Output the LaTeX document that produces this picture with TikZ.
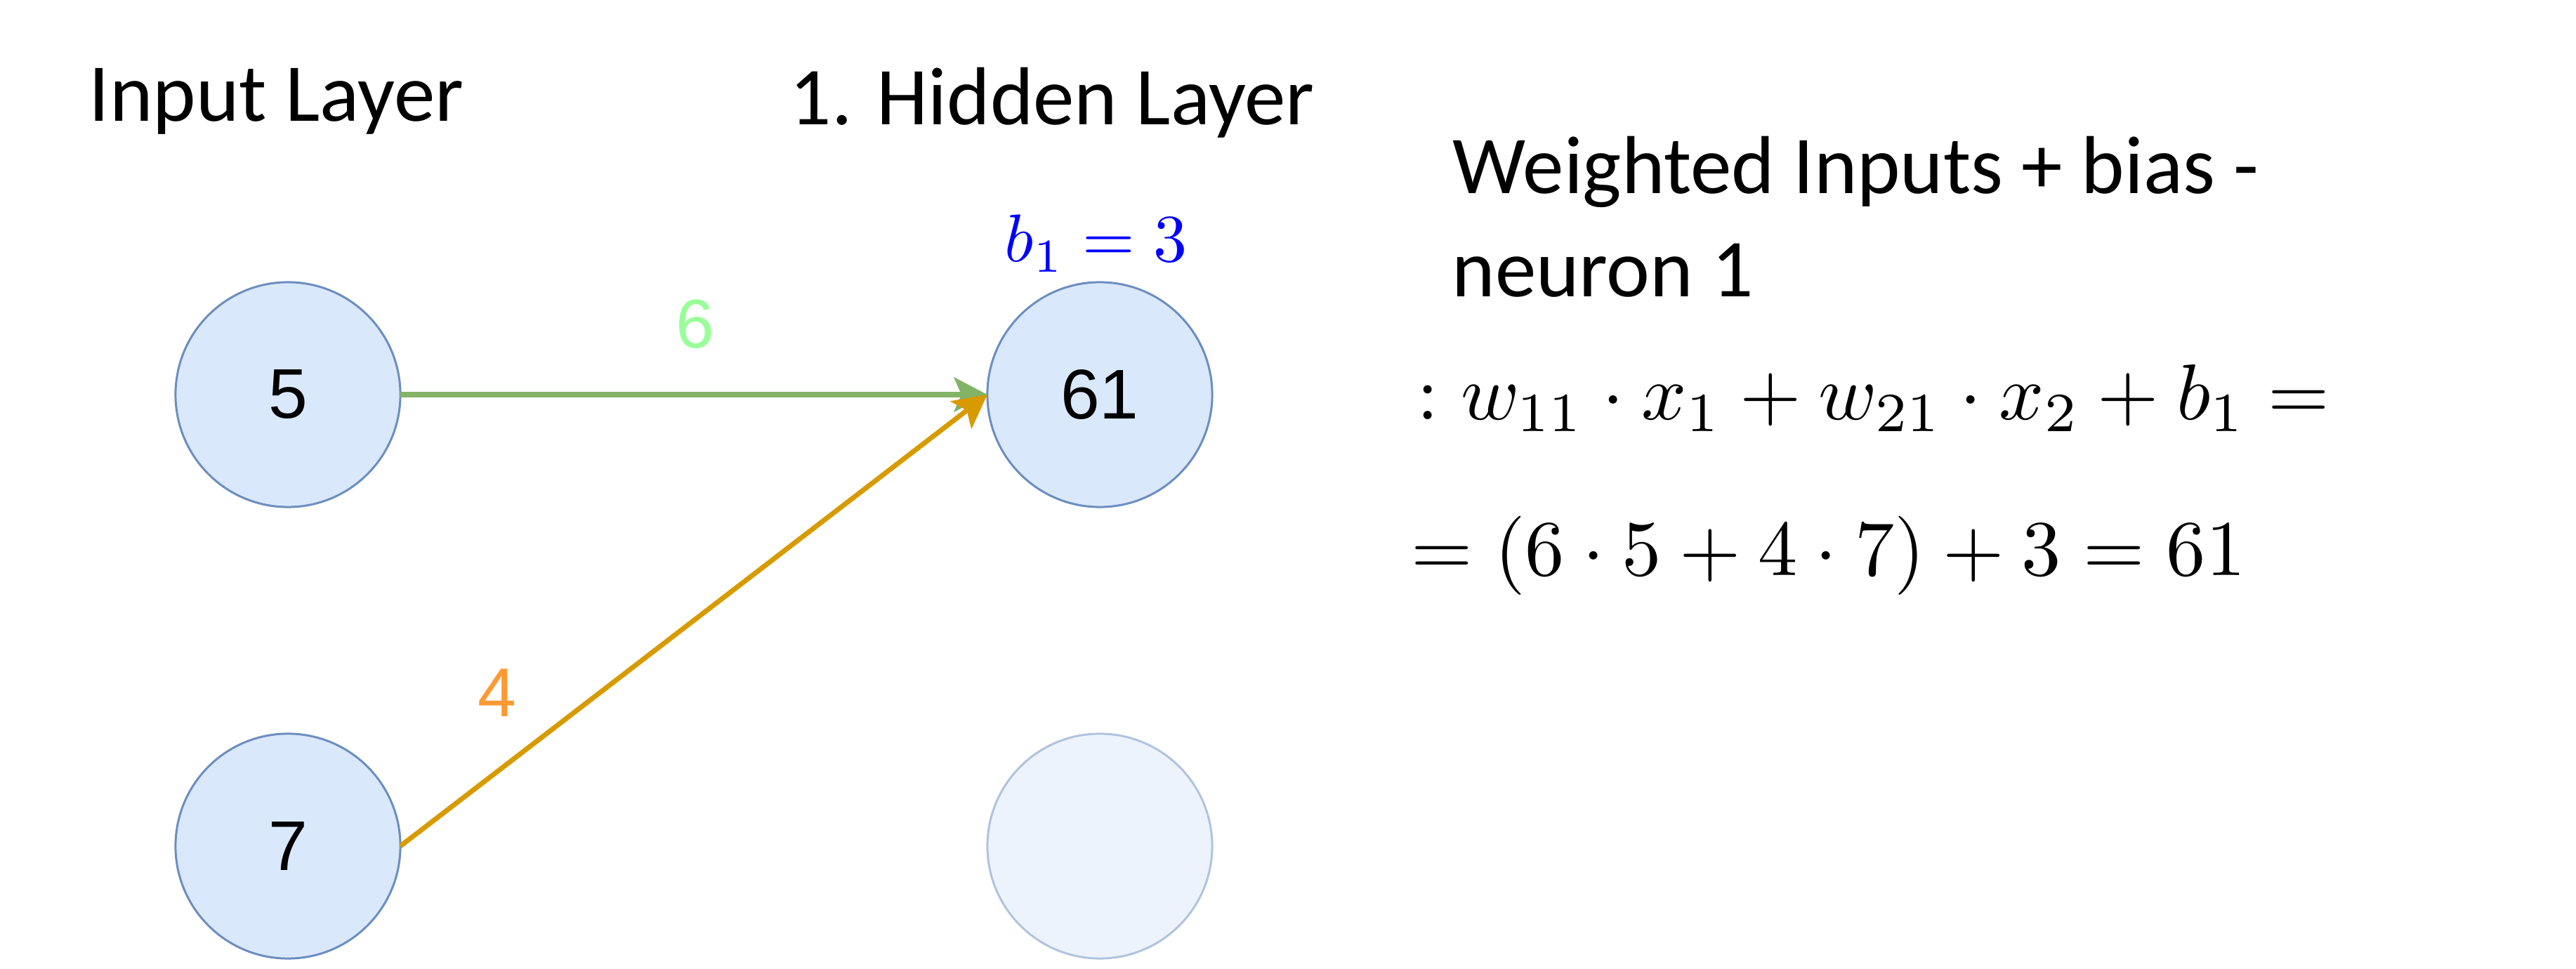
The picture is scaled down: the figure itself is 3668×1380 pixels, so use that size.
\documentclass[tikz,border=0pt]{standalone}
\usepackage[no-math]{fontspec}
\setmainfont{Carlito}
\newfontfamily\arialfont{Liberation Sans}
\usetikzlibrary{arrows.meta}
\definecolor{nfill}{HTML}{DAE8FC}
\definecolor{nline}{HTML}{6C8EBF}
\definecolor{gline}{HTML}{82B366}
\definecolor{oline}{HTML}{D79B00}
\definecolor{glabel}{HTML}{99FF99}
\definecolor{olabel}{HTML}{FF9933}
\definecolor{bblue}{HTML}{0000FF}
\begin{document}
\begin{tikzpicture}[x=0.01cm,y=-0.01cm,
  neuron/.style={circle, draw=nline, fill=nfill, line width=0.85pt, minimum size=3.2cm,
    inner sep=0pt, outer sep=0pt, font=\arialfont\fontsize{28.5}{34}\selectfont},
  faded/.style={neuron, draw opacity=0.5, fill opacity=0.5},
  heading/.style={anchor=base west, inner sep=0pt, font=\fontsize{33.3}{40}\selectfont},
  eq/.style={anchor=base west, inner sep=0pt, font=\fontsize{10}{12}\selectfont},
  wlabel/.style={inner sep=0pt, font=\arialfont\fontsize{28}{34}\selectfont},
  conn/.style={line width=2pt, -{Stealth[length=13.5pt,width=14pt,inset=3pt]}}
]
\path[use as bounding box] (0,0) rectangle (3668,1380);

\node[neuron] (n5) at (410,562) {5};
\node[neuron] (n61) at (1566,562) {61};
\node[neuron] (n7) at (410,1205) {7};
\node[faded] (n2) at (1566,1205) {};

\draw[conn, color=gline] (n5.east) -- (n61.west);
\draw[conn, color=oline] (n7.east) -- (n61.west);

\node[wlabel, text=glabel] (w6) at (990,462) {6};
\node[wlabel, text=olabel] (w4) at (708,987) {4};

\node[anchor=base, inner sep=0pt, text=bblue, font=\fontsize{10}{12}\selectfont] (bias) at (1561,373) {\scalebox{2.73}{$b_1 = 3$}};

\node[heading] (hin) at (126,173) {Input Layer};
\node[heading] (hhid) at (1124,178) {1. Hidden Layer};
\node[heading] (hw1) at (2068,276) {Weighted Inputs + bias -};
\node[heading] (hw2) at (2067,423) {neuron 1};

\node[eq] (m1) at (2017,598) {\scalebox{3.2}{$: w_{11}\cdot x_1 + w_{21}\cdot x_2 + b_1 =$}};
\node[eq] (m2) at (2009,820) {\scalebox{3.2}{$= (6\cdot 5+4\cdot 7)+3=61$}};
\end{tikzpicture}
\end{document}
